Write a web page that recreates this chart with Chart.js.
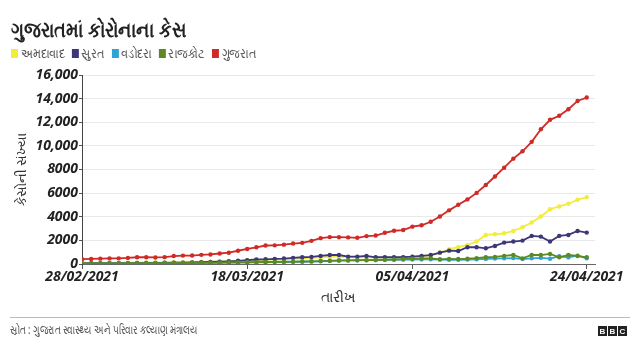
<!DOCTYPE html>
<html><head><meta charset="utf-8">
<script src="https://cdn.jsdelivr.net/npm/chart.js@4"></script>
<style>
html,body{margin:0;padding:0;background:#fff;width:640px;height:360px;overflow:hidden;font-family:"Noto Sans",sans-serif;}
#wrap{position:relative;width:640px;height:360px;}
canvas{position:absolute;left:0;top:0;}
#title{position:absolute;left:11px;top:15px;font-size:21px;font-weight:bold;color:#222;white-space:nowrap;transform:scaleX(0.85);transform-origin:0 0;}
#legend{position:absolute;left:11px;top:44px;font-size:13px;color:#555;display:flex;white-space:nowrap;transform:scaleX(0.87);transform-origin:0 0;}
.li{display:flex;align-items:center;margin-right:8px;}
.sw{width:8px;height:9px;margin-right:3px;}
#rule{position:absolute;left:10px;width:620px;top:317px;height:1px;background:#bbb;}
#src{position:absolute;left:10px;top:321px;font-size:12px;color:#555;white-space:nowrap;transform:scaleX(0.75);transform-origin:0 0;}
#bbc{position:absolute;left:598px;top:326px;display:flex;gap:1px;}
.b{width:9px;height:10px;background:#222;color:#fff;font:bold 8px "Liberation Sans",Arial,sans-serif;display:flex;align-items:center;justify-content:center;}
</style></head>
<body><div id="wrap">
<canvas id="c" width="640" height="360"></canvas>
<div id="title">ગુજરાતમાં કોરોનાના કેસ</div>
<div id="legend"></div>
<div id="rule"></div>
<div id="src">સ્રોત : ગુજરાત સ્વાસ્થ્ય અને પરિવાર કલ્યાણ મંત્રાલય</div>
<div id="bbc"><div class="b">B</div><div class="b">B</div><div class="b">C</div></div>
</div>
<script>
const dates = ["28/02/2021","01/03/2021","02/03/2021","03/03/2021","04/03/2021","05/03/2021","06/03/2021","07/03/2021","08/03/2021","09/03/2021","10/03/2021","11/03/2021","12/03/2021","13/03/2021","14/03/2021","15/03/2021","16/03/2021","17/03/2021","18/03/2021","19/03/2021","20/03/2021","21/03/2021","22/03/2021","23/03/2021","24/03/2021","25/03/2021","26/03/2021","27/03/2021","28/03/2021","29/03/2021","30/03/2021","31/03/2021","01/04/2021","02/04/2021","03/04/2021","04/04/2021","05/04/2021","06/04/2021","07/04/2021","08/04/2021","09/04/2021","10/04/2021","11/04/2021","12/04/2021","13/04/2021","14/04/2021","15/04/2021","16/04/2021","17/04/2021","18/04/2021","19/04/2021","20/04/2021","21/04/2021","22/04/2021","23/04/2021","24/04/2021"];
const tickLabels = ["28/02/2021","18/03/2021","05/04/2021","24/04/2021"];
const yTicks = [0,2000,4000,6000,8000,10000,12000,14000,16000];

const seriesNames = ["અમદાવાદ","સુરત","વડોદરા","રાજકોટ","ગુજરાત"];
const ahmedabad = [80,90,95,100,105,110,120,125,130,140,150,160,170,185,200,215,240,260,290,320,360,380,400,440,480,520,560,600,610,600,560,570,560,560,560,580,610,660,740,950,1250,1420,1610,1900,2460,2520,2600,2800,3110,3510,4020,4640,4870,5100,5440,5660];
const surat = [60,62,65,70,72,75,80,85,90,100,110,120,130,150,170,195,230,270,320,380,400,430,460,520,570,600,680,760,760,620,620,680,570,570,570,580,620,680,760,960,1130,1100,1420,1420,1330,1530,1810,1900,1980,2380,2320,1900,2380,2460,2800,2660];
const vadodara = [40,40,42,45,45,48,50,52,55,60,65,70,75,80,90,100,110,120,130,140,150,160,170,180,190,200,230,260,300,310,320,330,340,350,360,370,380,390,400,380,350,360,380,400,430,460,480,500,420,480,520,450,650,560,700,480];
const rajkot = [50,52,55,58,60,62,65,68,70,75,80,85,90,100,110,120,130,140,150,160,170,180,190,200,210,230,250,270,290,300,310,320,330,350,380,420,450,470,480,390,430,420,450,500,570,600,680,760,480,760,760,850,570,760,680,570];
const gujarat = [407,427,454,475,480,515,571,575,555,581,675,710,715,775,810,890,954,1122,1276,1415,1565,1580,1640,1730,1790,1961,2190,2276,2270,2252,2220,2360,2410,2640,2815,2875,3160,3280,3575,4021,4541,5011,5469,6021,6690,7410,8152,8920,9541,10340,11403,12206,12553,13105,13804,14097];
const colors = ["#f2ec3a","#3d3779","#2ea3d6","#5b8a23","#d02a26"];

const allSeries = [ahmedabad, surat, vadodara, rajkot, gujarat];

const lg = document.getElementById('legend');
seriesNames.forEach((n,i)=>{
  const d=document.createElement('div'); d.className='li';
  d.innerHTML='<span class="sw" style="background:'+colors[i]+'"></span><span>'+n+'</span>';
  lg.appendChild(d);
});

const tickIdx = tickLabels.map(t=>dates.indexOf(t));

const datasets = allSeries.map((arr,i)=>({
  label: seriesNames[i],
  data: arr.map((v,j)=>({x:j,y:v})),
  borderColor: colors[i],
  backgroundColor: colors[i],
  borderWidth: 1.8,
  pointRadius: 2.2,
  pointHoverRadius: 2.2,
  pointBorderWidth: 0,
  tension: 0,
  order: 4-i
}));

const tickFont = {family:'"Noto Sans", sans-serif', size:14, weight:'bold', style:'italic'};

new Chart(document.getElementById('c'), {
  type:'line',
  data:{datasets},
  options:{
    responsive:false, animation:false, devicePixelRatio:1,
    layout:{padding:{left:10,right:45,top:75,bottom:50}},
    plugins:{legend:{display:false}, tooltip:{enabled:false}},
    scales:{
      x:{
        type:'linear', min:0, max:55.9,
        afterBuildTicks:(ax)=>{ ax.ticks = tickIdx.map(v=>({value:v})); },
        afterFit:(s)=>{ s.height = 46; },
        ticks:{autoSkip:false, maxRotation:0, padding:0, color:'#222', font:tickFont,
          callback:(v)=>{ const k=tickIdx.indexOf(v); return k>=0?tickLabels[k]:''; }},
        grid:{drawOnChartArea:false, drawTicks:true, tickLength:5, tickColor:'#555'},
        border:{display:true, color:'#666', width:1},
        title:{display:true, text:'તારીખ', color:'#333', font:{family:'"Noto Sans", sans-serif', size:14}}
      },
      y:{
        min:0, max:16000,
        afterBuildTicks:(ax)=>{ ax.ticks = yTicks.map(v=>({value:v})); },
        afterFit:(s)=>{ s.width = 72; },
        ticks:{padding:1, color:'#222', font:tickFont,
          callback:(v)=> v>=10000 ? v.toLocaleString('en-US') : String(v)},
        grid:{color:'#e9e9e9', tickLength:3, tickColor:'#555'},
        border:{display:true, color:'#444', width:1},
        title:{display:true, text:'કેસોની સંખ્યા', color:'#333', font:{family:'"Noto Sans", sans-serif', size:13}}
      }
    }
  }
});
</script>
</body></html>
